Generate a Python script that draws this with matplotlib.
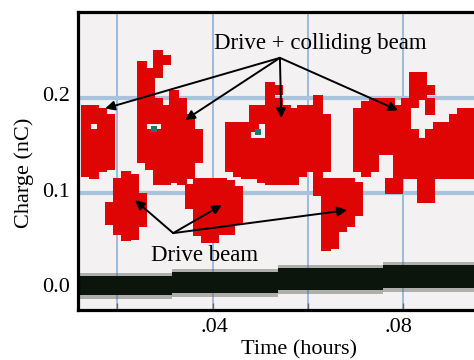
import numpy as np
import matplotlib
matplotlib.use("Agg")
import matplotlib.pyplot as plt

plt.rcParams['font.family'] = ['Liberation Serif', 'DejaVu Serif']

# time columns (hours) of the scope trace
t_cols = [0.0122, 0.0139, 0.0157, 0.0174, 0.0191, 0.0209, 0.0226, 0.0243,
          0.0261, 0.0278, 0.0296, 0.0313, 0.0330, 0.0348, 0.0365, 0.0383,
          0.0400, 0.0417, 0.0435, 0.0452, 0.0470, 0.0487, 0.0504, 0.0522,
          0.0539, 0.0557, 0.0574, 0.0591, 0.0609, 0.0626, 0.0643, 0.0661,
          0.0678, 0.0696, 0.0713, 0.0730, 0.0748, 0.0765, 0.0783, 0.0800,
          0.0817, 0.0835, 0.0852, 0.0870, 0.0887, 0.0904, 0.0922, 0.0939,
          0.0957]
# charge samples (nC) in each time column
q_cols = [
    [0.183, 0.174, 0.166, 0.158, 0.149, 0.141, 0.133, 0.124, 0.118],
    [0.183, 0.174, 0.158, 0.149, 0.141, 0.133, 0.124, 0.116],
    [0.180, 0.174, 0.166, 0.158, 0.149, 0.141, 0.133, 0.124],
    [0.174, 0.166, 0.158, 0.149, 0.141, 0.133, 0.126, 0.082, 0.074, 0.068],
    [0.107, 0.099, 0.091, 0.082, 0.074, 0.066, 0.058],
    [0.114, 0.107, 0.099, 0.091, 0.082, 0.074, 0.066, 0.057, 0.051],
    [0.111, 0.103, 0.099, 0.091, 0.082, 0.074, 0.066, 0.057, 0.053],
    [0.229, 0.222, 0.214, 0.206, 0.199, 0.191, 0.183, 0.174, 0.166, 0.158,
     0.149, 0.141, 0.133, 0.091, 0.082, 0.074, 0.066],
    [0.222, 0.214, 0.206, 0.199, 0.191, 0.183, 0.174, 0.158, 0.149, 0.141,
     0.133, 0.126],
    [0.241, 0.232, 0.222, 0.191, 0.183, 0.174, 0.158, 0.149, 0.141, 0.133,
     0.124, 0.116, 0.110],
    [0.236, 0.183, 0.174, 0.166, 0.158, 0.149, 0.141, 0.133, 0.124, 0.116,
     0.110],
    [0.199, 0.191, 0.183, 0.174, 0.166, 0.158, 0.149, 0.141, 0.133, 0.124,
     0.116, 0.112],
    [0.191, 0.183, 0.174, 0.166, 0.158, 0.149, 0.141, 0.133, 0.124, 0.116,
     0.110],
    [0.174, 0.166, 0.158, 0.149, 0.141, 0.133, 0.124, 0.116, 0.101, 0.093,
     0.085],
    [0.158, 0.149, 0.141, 0.133, 0.107, 0.099, 0.091, 0.082, 0.074, 0.066,
     0.057],
    [0.107, 0.099, 0.091, 0.082, 0.074, 0.066, 0.057, 0.049],
    [0.107, 0.099, 0.091, 0.082, 0.074, 0.066, 0.057, 0.049],
    [0.107, 0.099, 0.091, 0.082, 0.074, 0.066, 0.058],
    [0.166, 0.158, 0.149, 0.141, 0.133, 0.124, 0.105, 0.099, 0.091, 0.082,
     0.074, 0.066, 0.058],
    [0.166, 0.158, 0.149, 0.141, 0.133, 0.124, 0.118, 0.099, 0.091, 0.082,
     0.074, 0.068],
    [0.166, 0.158, 0.149, 0.141, 0.133, 0.124, 0.116],
    [0.183, 0.174, 0.166, 0.149, 0.141, 0.133, 0.124, 0.116],
    [0.183, 0.174, 0.149, 0.141, 0.133, 0.124, 0.116, 0.112],
    [0.208, 0.199, 0.191, 0.183, 0.174, 0.166, 0.158, 0.149, 0.141, 0.133,
     0.124, 0.116, 0.110],
    [0.204, 0.191, 0.183, 0.174, 0.166, 0.158, 0.149, 0.141, 0.133, 0.124,
     0.116, 0.110],
    [0.183, 0.174, 0.166, 0.158, 0.149, 0.141, 0.133, 0.124, 0.116, 0.110],
    [0.180, 0.174, 0.166, 0.158, 0.149, 0.141, 0.133, 0.124, 0.116, 0.110],
    [0.183, 0.174, 0.166, 0.158, 0.149, 0.141, 0.133, 0.124, 0.118],
    [0.183, 0.174, 0.166, 0.158, 0.149, 0.141, 0.133, 0.124],
    [0.194, 0.183, 0.174, 0.166, 0.158, 0.149, 0.141, 0.133, 0.124, 0.116,
     0.107, 0.099],
    [0.174, 0.166, 0.158, 0.149, 0.141, 0.133, 0.124, 0.107, 0.099, 0.091,
     0.082, 0.074, 0.066, 0.057, 0.049, 0.041],
    [0.107, 0.099, 0.091, 0.082, 0.074, 0.066, 0.057, 0.049, 0.043],
    [0.107, 0.099, 0.091, 0.082, 0.074, 0.066, 0.061],
    [0.107, 0.099, 0.091, 0.082, 0.074, 0.066],
    [0.180, 0.174, 0.166, 0.158, 0.149, 0.141, 0.133, 0.124, 0.103, 0.095,
     0.087, 0.078],
    [0.188, 0.183, 0.174, 0.166, 0.158, 0.149, 0.141, 0.133, 0.124, 0.118],
    [0.191, 0.183, 0.174, 0.166, 0.158, 0.149, 0.141, 0.133, 0.124],
    [0.191, 0.183, 0.174, 0.166, 0.158, 0.149, 0.141],
    [0.191, 0.183, 0.174, 0.166, 0.158, 0.149, 0.141, 0.107, 0.101],
    [0.183, 0.174, 0.166, 0.158, 0.149, 0.141, 0.133, 0.124, 0.116, 0.107,
     0.101],
    [0.191, 0.183, 0.174, 0.166, 0.158, 0.149, 0.141, 0.133, 0.124, 0.116],
    [0.218, 0.208, 0.199, 0.191, 0.158, 0.149, 0.141, 0.133, 0.124, 0.116],
    [0.218, 0.208, 0.199, 0.149, 0.141, 0.133, 0.124, 0.116, 0.107, 0.099,
     0.091],
    [0.204, 0.191, 0.183, 0.158, 0.149, 0.141, 0.133, 0.124, 0.116, 0.107,
     0.099, 0.091],
    [0.166, 0.158, 0.149, 0.141, 0.133, 0.124, 0.116],
    [0.166, 0.158, 0.149, 0.141, 0.133, 0.124, 0.116],
    [0.174, 0.166, 0.158, 0.149, 0.141, 0.133, 0.124, 0.116],
    [0.180, 0.174, 0.166, 0.158, 0.149, 0.141, 0.133, 0.124, 0.116],
    [0.180, 0.174, 0.166, 0.158, 0.149, 0.141, 0.133, 0.124, 0.116],
]
# odd-coloured samples
teal_t = [0.0270, 0.0495]
teal_q = [0.164, 0.160]

# baseline noise band (pedestal)
band_t = [0.0104, 0.0309, 0.0539, 0.0767, 0.0965]
band_lo = [-0.010, -0.008, -0.005, -0.003, -0.003]
band_hi = [0.010, 0.014, 0.018, 0.021, 0.021]

# scope graticule
grid_t = [0.0189, 0.0398, 0.0604, 0.0811]
grid_q = [0.196, 0.097]

t_all = np.repeat(t_cols, [len(c) for c in q_cols])
q_all = np.concatenate([np.array(c) for c in q_cols])

fig = plt.figure(figsize=(4.74, 3.6), dpi=100)
ax = fig.add_axes([78 / 474, 50 / 360, 396 / 474, 298 / 360])
ax.set_facecolor('#f3f1f1')

for g in grid_t:
    ax.axvline(g, color='#9db9dc', lw=1.4, zorder=1)
for g in grid_q:
    ax.axhline(g, color='#a9c2de', lw=3, zorder=1)

# soft edge of the pedestal, then its dark core
ax.fill_between(band_t, np.array(band_lo) - 0.004, np.array(band_hi) + 0.003,
                step='post', color='#5a605a', alpha=0.45, lw=0, zorder=2)
ax.fill_between(band_t, band_lo, band_hi, step='post', color='#0b150b', lw=0, zorder=2)

ax.plot(t_all, q_all, 's', color='#e00505', ms=7.4, mew=0, zorder=3)
ax.plot(teal_t, teal_q, 's', color='#1d7a6c', ms=5, mew=0, zorder=4)

ax.set_xlim(0.0104, 0.0965)
ax.set_ylim(-0.026, 0.286)

ax.set_xticks([0.04, 0.08])
ax.set_xticklabels(['.04', '.08'])
ax.set_yticks([0.0, 0.1, 0.2])
ax.set_yticklabels(['0.0', '0.1', '0.2'])
ax.set_xticks(grid_t, minor=True)
ax.tick_params(which='major', length=0, labelsize=16, pad=6)
ax.tick_params(which='minor', direction='in', length=5, color='#666666', width=1)

for s in ['left', 'top', 'bottom']:
    ax.spines[s].set_linewidth(2.3)
ax.spines['right'].set_visible(False)

ax.set_xlabel('Time (hours)', fontsize=16)
ax.xaxis.set_label_coords(0.558, -0.1)
ax.set_ylabel('Charge (nC)', fontsize=16)
ax.yaxis.set_label_coords(-0.112, 0.46)

arrow = dict(arrowstyle='-|>', lw=1.4, color='black', mutation_scale=14,
             shrinkA=0, shrinkB=0)
ax.text(0.063, 0.253, 'Drive + colliding beam', fontsize=16.5, ha='center', va='center')
for xy in [(0.0163, 0.185), (0.0337, 0.173), (0.0546, 0.175), (0.0800, 0.183)]:
    ax.annotate('', xy=xy, xytext=(0.0543, 0.238), arrowprops=arrow)

ax.text(0.038, 0.031, 'Drive beam', fontsize=16.5, ha='center', va='center')
for xy in [(0.0228, 0.089), (0.0417, 0.084), (0.0689, 0.0785)]:
    ax.annotate('', xy=xy, xytext=(0.0311, 0.0545), arrowprops=arrow)

fig.savefig('out.png', dpi=100)
